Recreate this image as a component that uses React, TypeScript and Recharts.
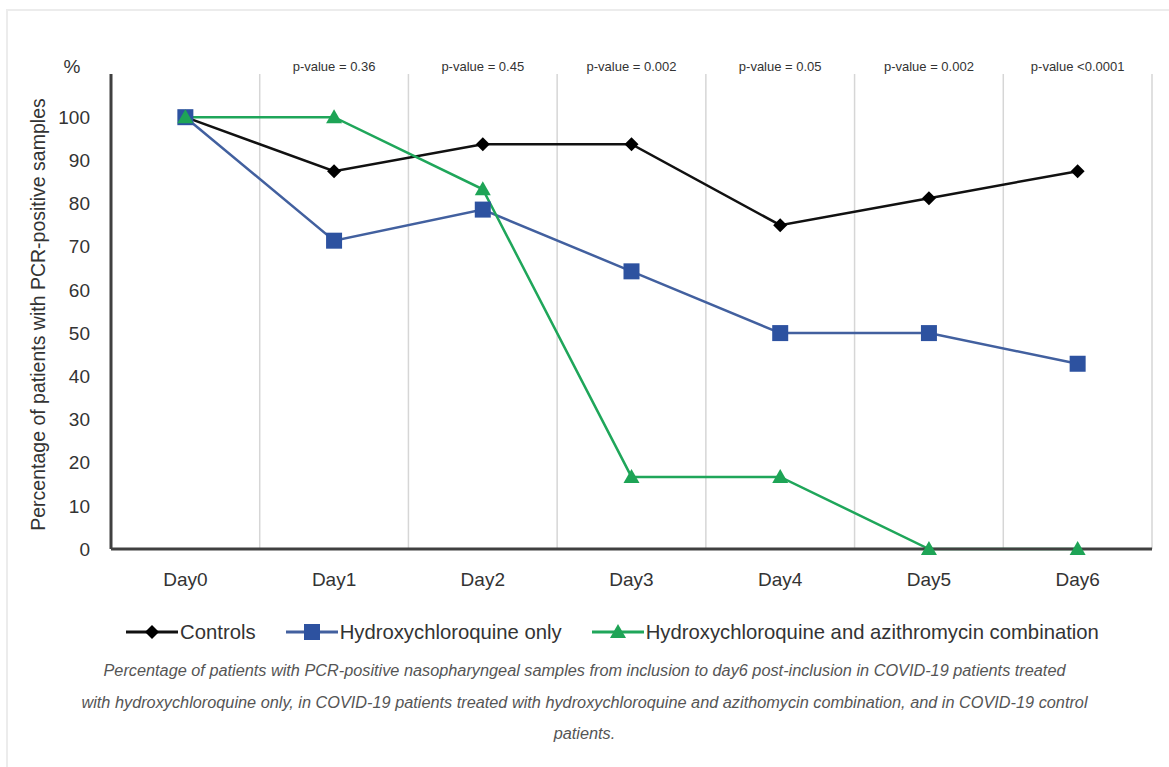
import { LineChart, Line, XAxis, YAxis, ReferenceLine, Legend } from 'recharts';

const days = ['Day0', 'Day1', 'Day2', 'Day3', 'Day4', 'Day5', 'Day6'];
const pValues = ['', 'p-value = 0.36', 'p-value = 0.45', 'p-value = 0.002', 'p-value = 0.05', 'p-value = 0.002', 'p-value <0.0001'];
const controls = [100, 87.5, 93.75, 93.75, 75, 81.25, 87.5];
const hcqOnly = [100, 71.4, 78.6, 64.3, 50, 50, 42.9];
const hcqAzi = [100, 100, 83.3, 16.7, 16.7, 0, 0];
const yTicks = [0, 10, 20, 30, 40, 50, 60, 70, 80, 90, 100];
// day boundaries for the light vertical separators
const dayBounds = [1, 2, 3, 4, 5, 6, 7];

const FONT = "'Liberation Sans', Arial, sans-serif";

const data = days.map((day, i) => ({
  day,
  controls: controls[i],
  hcqOnly: hcqOnly[i],
  hcqAzi: hcqAzi[i],
}));

type Shape = 'diamond' | 'square' | 'triangle';

const series: { key: string; name: string; color: string; markerColor: string; shape: Shape }[] = [
  { key: 'controls', name: 'Controls', color: '#111111', markerColor: '#000000', shape: 'diamond' },
  { key: 'hcqOnly', name: 'Hydroxychloroquine only', color: '#42609f', markerColor: '#2d52a0', shape: 'square' },
  { key: 'hcqAzi', name: 'Hydroxychloroquine and azithromycin combination', color: '#1fa65a', markerColor: '#1ea456', shape: 'triangle' },
];

const Marker = ({ cx, cy, shape, fill }: { cx: number; cy: number; shape: Shape; fill: string }) => {
  if (shape === 'diamond') {
    return <polygon points={`${cx},${cy - 7} ${cx + 7},${cy} ${cx},${cy + 7} ${cx - 7},${cy}`} fill={fill} />;
  }
  if (shape === 'square') {
    return <rect x={cx - 8} y={cy - 8} width={16} height={16} fill={fill} />;
  }
  return <polygon points={`${cx},${cy - 8} ${cx + 8},${cy + 6} ${cx - 8},${cy + 6}`} fill={fill} />;
};

const makeDot = (shape: Shape, fill: string) => (props: any) => {
  const { cx, cy, index } = props;
  if (cx == null || cy == null) return <g key={index} />;
  return <Marker key={index} cx={cx} cy={cy} shape={shape} fill={fill} />;
};

const YLabel = (props: any) => {
  const { x, y, height } = props.viewBox;
  const cy = y + height / 2 + 3;
  return (
    <g>
      <text x={x + 38} y={cy} transform={`rotate(-90, ${x + 38}, ${cy})`} textAnchor="middle" dominantBaseline="central"
        fontSize={19.5} fill="#333" fontFamily={FONT}>
        Percentage of patients with PCR-positive samples
      </text>
      <text x={x + 72} y={y - 1} textAnchor="middle" fontSize={19} fill="#333" fontFamily={FONT}>
        %
      </text>
    </g>
  );
};

const LegendContent = () => (
  <div style={{ display: 'flex', justifyContent: 'center', alignItems: 'center', gap: 30, height: 46, paddingLeft: 73, fontFamily: FONT, fontSize: 20.3, color: '#333' }}>
    {series.map((s) => (
      <div key={s.key} style={{ display: 'flex', alignItems: 'center' }}>
        <svg width={52} height={18}>
          <line x1={0} y1={9} x2={52} y2={9} stroke={s.color} strokeWidth={3} />
          <Marker cx={26} cy={9} shape={s.shape} fill={s.markerColor} />
        </svg>
        <span style={{ marginLeft: 2 }}>{s.name}</span>
      </div>
    ))}
  </div>
);

export default function App() {
  return (
    <div style={{ position: 'relative', width: 1169, height: 767, background: '#fff' }}>
      <style>{'body { margin: 0; }'}</style>
      <div style={{ position: 'absolute', left: 6, top: 9, right: 0, bottom: 0, borderTop: '2px solid #ececec', borderLeft: '2px solid #ececec' }} />
      <div style={{ position: 'absolute', left: 0, top: 0 }}>
        <LineChart width={1160} height={655} data={data} margin={{ top: 30, right: 8, left: 0, bottom: 0 }}>
          <XAxis dataKey="day" scale="band" axisLine={{ stroke: '#404040', strokeWidth: 3 }} tickLine={false} tickSize={0} tickMargin={24}
            height={60} interval={0} tick={{ fontSize: 19, fill: '#333', fontFamily: FONT }} />
          <XAxis xAxisId="top" dataKey="day" scale="band" orientation="top" axisLine={false} tickLine={false} tickSize={0} tickMargin={3}
            height={44} interval={0} tickFormatter={(_v: string, i: number) => pValues[i]} tick={{ fontSize: 13, fill: '#333', fontFamily: FONT }} />
          <XAxis xAxisId="grid" type="number" dataKey={() => 0} domain={[0, days.length]} allowDataOverflow scale="linear" hide />
          <YAxis domain={[0, 110]} ticks={yTicks} width={111} axisLine={{ stroke: '#404040', strokeWidth: 3 }} tickLine={false} tickSize={0}
            tickMargin={21} interval={0} tick={{ fontSize: 19, fill: '#333', fontFamily: FONT }} label={YLabel} />
          {dayBounds.map((b) => (
            <ReferenceLine key={b} xAxisId="grid" x={b} stroke="#d6d6d6" strokeWidth={1.5} ifOverflow="visible" />
          ))}
          {series.map((s) => (
            <Line key={s.key} dataKey={s.key} name={s.name} stroke={s.color} strokeWidth={2.5} dot={makeDot(s.shape, s.markerColor)}
              activeDot={false} isAnimationActive={false} />
          ))}
          <Legend verticalAlign="bottom" height={46} content={LegendContent} />
        </LineChart>
      </div>
      <div style={{ position: 'absolute', left: 0, top: 655, width: 1169, textAlign: 'center', fontFamily: FONT, fontStyle: 'italic',
        fontSize: 16.3, lineHeight: '31.5px', color: '#555' }}>
        <div>Percentage of patients with PCR-positive nasopharyngeal samples from inclusion to day6 post-inclusion in COVID-19 patients treated</div>
        <div>with hydroxychloroquine only, in COVID-19 patients treated with hydroxychloroquine and azithomycin combination, and in COVID-19 control</div>
        <div>patients.</div>
      </div>
    </div>
  );
}
